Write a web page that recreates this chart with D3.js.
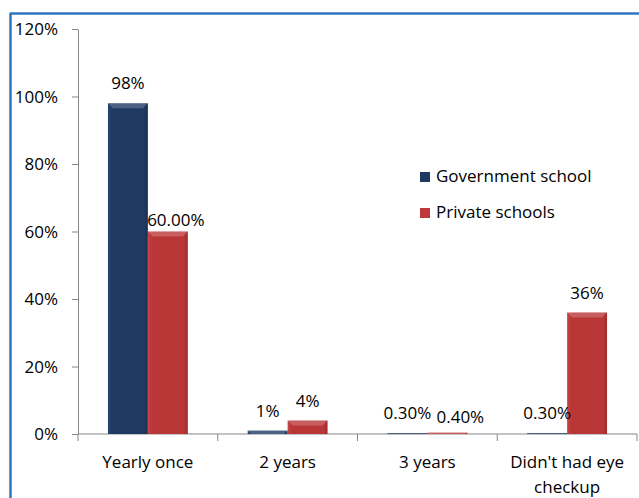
<!DOCTYPE html>
<html><head><meta charset="utf-8">
<script src="https://cdn.jsdelivr.net/npm/d3@7"></script>
<style>body{margin:0;background:#fff;}svg{display:block;font-family:"Open Sans",sans-serif;}</style>
</head><body>
<script>
const categories = ["Yearly once", "2 years", "3 years", "Didn't had eye checkup"];
const seriesNames = ["Government school", "Private schools"];
const govValues = [98, 1, 0.3, 0.3];
const privValues = [60, 4, 0.4, 36];
const govLabels = ["98%", "1%", "0.30%", "0.30%"];
const privLabels = ["60.00%", "4%", "0.40%", "36%"];
const yTicks = [0, 20, 40, 60, 80, 100, 120];

(function(){
const W = 639, H = 498;
const FS = 17;
const svg = d3.select("body").append("svg").attr("width", W).attr("height", H);
const defs = svg.append("defs");
function grad(id, c1, c2, c3) {
  const g = defs.append("linearGradient").attr("id", id).attr("x1", 0).attr("x2", 1).attr("y1", 0).attr("y2", 0);
  g.append("stop").attr("offset", "0%").attr("stop-color", c1);
  g.append("stop").attr("offset", "10%").attr("stop-color", c2);
  g.append("stop").attr("offset", "90%").attr("stop-color", c2);
  g.append("stop").attr("offset", "100%").attr("stop-color", c3);
}
grad("gGov", "#2a4670", "#1f3a62", "#192f50");
grad("gPriv", "#c44546", "#b93637", "#9c2b2c");
const colors = ["url(#gGov)", "url(#gPriv)"];
const solid = ["#1f3a62", "#c0393a"];

// frame
svg.append("line").attr("x1", 10).attr("x2", W).attr("y1", 13.5).attr("y2", 13.5).attr("stroke", "#2e75c0").attr("stroke-width", 2.5);
svg.append("line").attr("x1", 10.5).attr("x2", 10.5).attr("y1", 13).attr("y2", H).attr("stroke", "#2e75c0").attr("stroke-width", 2.5);

const pLeft = 78, pRight = 637, pTop = 29, pBottom = 434;
const y = d3.scaleLinear().domain([0, 120]).range([pBottom, pTop]);
const x = d3.scaleBand().domain(categories).range([pLeft, pRight]).paddingInner(0).paddingOuter(0);
const xs = d3.scaleBand().domain([0, 1]).range([0, x.bandwidth()]).paddingOuter(0.75).paddingInner(0);

// y axis
const yAxis = svg.append("g").attr("transform", `translate(${pLeft},0)`)
  .call(d3.axisLeft(y).tickValues(yTicks).tickSize(6).tickSizeOuter(0).tickFormat(d => d + "%"));
yAxis.select(".domain").attr("stroke", "#868686");
yAxis.selectAll(".tick line").attr("stroke", "#868686");
yAxis.selectAll(".tick text").attr("fill", "#000").attr("font-size", FS).attr("x", -20).attr("dy", "0.35em").style("font-family", "'Open Sans', sans-serif");

// x axis
const xAxis = svg.append("g").attr("transform", `translate(0,${pBottom})`);
xAxis.append("line").attr("x1", pLeft).attr("x2", pRight).attr("stroke", "#868686");
const bounds = d3.range(categories.length + 1).map(i => pLeft + i * x.bandwidth());
xAxis.selectAll(".xt").data(bounds).join("line").attr("x1", d => d).attr("x2", d => d).attr("y1", 0).attr("y2", 7).attr("stroke", "#868686");

const catLines = [["Yearly once"], ["2 years"], ["3 years"], ["Didn't had eye", "checkup"]];
categories.forEach((c, i) => {
  const t = svg.append("text").attr("text-anchor", "middle").attr("font-size", FS).attr("fill", "#000");
  catLines[i].forEach((ln, j) => {
    t.append("tspan").attr("x", x(c) + x.bandwidth() / 2).attr("y", 468 + j * 25).text(ln);
  });
});

// bars
const series = [govValues, privValues];
const labels = [govLabels, privLabels];
series.forEach((vals, s) => {
  const g = svg.append("g");
  g.selectAll("rect").data(vals).join("rect")
    .attr("x", (d, i) => x(categories[i]) + xs(s))
    .attr("width", xs.bandwidth())
    .attr("y", d => y(d))
    .attr("height", d => pBottom - y(d))
    .attr("fill", colors[s]);
  g.selectAll("path.hl").data(vals).join("path")
    .attr("d", (d, i) => {
      const x0 = x(categories[i]) + xs(s), w = xs.bandwidth(), y0 = y(d), h = Math.min(5, pBottom - y(d));
      return `M${x0},${y0}L${x0 + w},${y0}L${x0 + w - h},${y0 + h}L${x0 + h},${y0 + h}Z`;
    })
    .attr("fill", "#fff").attr("opacity", 0.2);
});

// data labels
const labelOffsets = [
  [[0, -14], [0, -14], [0, -14], [0, -14]],
  [[8, -6], [0, -14], [13, -10], [0, -14]]
];
series.forEach((vals, s) => {
  svg.append("g").selectAll("text").data(vals).join("text")
    .attr("x", (d, i) => x(categories[i]) + xs(s) + xs.bandwidth() / 2 + labelOffsets[s][i][0])
    .attr("y", (d, i) => y(d) + labelOffsets[s][i][1])
    .attr("text-anchor", "middle").attr("font-size", FS).attr("fill", "#000")
    .text((d, i) => labels[s][i]);
});

// legend
const leg = svg.append("g").attr("transform", "translate(420,0)");
seriesNames.forEach((n, i) => {
  const yy = 182 + i * 36;
  leg.append("rect").attr("x", 0).attr("y", yy - 10).attr("width", 10).attr("height", 10).attr("fill", solid[i]);
  leg.append("text").attr("x", 16).attr("y", yy).attr("font-size", FS).attr("fill", "#000").text(n);
});
})();
</script>
</body></html>
